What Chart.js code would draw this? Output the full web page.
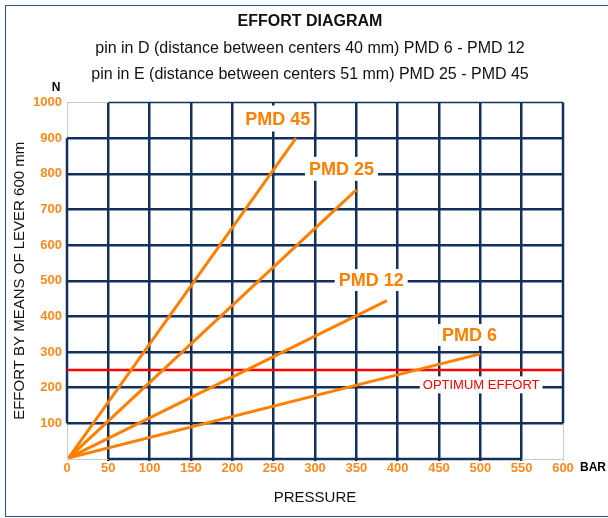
<!DOCTYPE html>
<html>
<head>
<meta charset="utf-8">
<script src="https://cdn.jsdelivr.net/npm/chart.js@4"></script>
<style>
  html, body { margin: 0; padding: 0; background: #fff; overflow: hidden; }
  .wrap { position: relative; width: 608px; height: 518px; }
  .frame { position: absolute; left: 5px; top: 5px; width: 700px; height: 512px;
           border: 1.5px solid #34527f; box-sizing: border-box; }
  canvas { position: absolute; left: 0; top: 0; }
</style>
</head>
<body>
<div class="wrap">
  <div class="frame"></div>
  <canvas id="myChart" width="608" height="518"></canvas>
</div>
<script>
// data
const pressureTicks = [0, 50, 100, 150, 200, 250, 300, 350, 400, 450, 500, 550, 600];
const effortTicks = [0, 100, 200, 300, 400, 500, 600, 700, 800, 900, 1000];

const pmd6Pressure = [2, 500];
const pmd6Effort = [3, 295];
const pmd12Pressure = [2, 387];
const pmd12Effort = [3, 444];
const pmd25Pressure = [2, 350];
const pmd25Effort = [3, 755];
const pmd45Pressure = [2, 277];
const pmd45Effort = [3, 900];

const optimumPressure = [0, 600];
const optimumEffort = [250, 250];

const orange = "#ff8000";
const tickOrange = "#ff8a1c";
const navy = "#12305e";
const lightGrid = "#c6cad3";

function points(xs, ys) {
  return xs.map(function(x, i) {
    return { x: x, y: ys[i] };
  });
}

function orangeLine(label, xs, ys) {
  return {
    label: label,
    data: points(xs, ys),
    borderColor: orange,
    borderWidth: 3,
    pointRadius: 0
  };
}

// grid edges: dark only on part of the border, like the reference
const edgePlugin = {
  id: "edges",
  beforeDatasetsDraw(chart) {
    const x = chart.scales.x;
    const y = chart.scales.y;
    const ctx = chart.ctx;
    ctx.save();
    ctx.strokeStyle = navy;
    ctx.lineWidth = 2.5;
    ctx.beginPath();
    ctx.moveTo(x.getPixelForValue(0), y.getPixelForValue(100));
    ctx.lineTo(x.getPixelForValue(0), y.getPixelForValue(900));
    ctx.moveTo(x.getPixelForValue(600), y.getPixelForValue(100));
    ctx.lineTo(x.getPixelForValue(600), y.getPixelForValue(1000));
    ctx.moveTo(x.getPixelForValue(50), y.getPixelForValue(0));
    ctx.lineTo(x.getPixelForValue(550), y.getPixelForValue(0));
    ctx.stroke();
    ctx.lineWidth = 1.5;
    ctx.beginPath();
    ctx.moveTo(x.getPixelForValue(50), y.getPixelForValue(1000));
    ctx.lineTo(x.getPixelForValue(600), y.getPixelForValue(1000));
    ctx.stroke();
    ctx.restore();
  }
};

// text labels with a white box behind them
const labelPlugin = {
  id: "boxLabels",
  afterDatasetsDraw(chart, args, opts) {
    const x = chart.scales.x;
    const y = chart.scales.y;
    const ctx = chart.ctx;
    ctx.save();
    ctx.textAlign = "center";
    ctx.textBaseline = "middle";
    opts.items.forEach(function(item) {
      ctx.font = item.font;
      const px = x.getPixelForValue(item.x);
      const py = y.getPixelForValue(item.y);
      const w = ctx.measureText(item.text).width + item.padX * 2;
      ctx.fillStyle = "#fff";
      ctx.fillRect(px - w / 2, py - item.boxH / 2, w, item.boxH);
      ctx.fillStyle = item.color;
      ctx.fillText(item.text, px, py + 1);
    });
    // axis units
    ctx.fillStyle = "#000";
    ctx.font = "bold 12px 'Liberation Sans', Arial, sans-serif";
    ctx.textAlign = "center";
    ctx.fillText("N", x.left - 11, y.top - 15);
    ctx.textAlign = "left";
    ctx.fillText("BAR", x.right + 17, y.bottom + 9);
    ctx.restore();
  }
};

Chart.defaults.font.family = "'Liberation Sans', Arial, sans-serif";

let ctx = document.getElementById("myChart").getContext("2d");
let chart = new Chart(ctx, {
  type: "line",
  data: {
    datasets: [
      orangeLine("PMD 6", pmd6Pressure, pmd6Effort),
      orangeLine("PMD 12", pmd12Pressure, pmd12Effort),
      orangeLine("PMD 25", pmd25Pressure, pmd25Effort),
      orangeLine("PMD 45", pmd45Pressure, pmd45Effort),
      {
        label: "OPTIMUM EFFORT",
        data: points(optimumPressure, optimumEffort),
        borderColor: "#ff0000",
        borderWidth: 2.5,
        pointRadius: 0
      }
    ]
  },
  options: {
    responsive: false,
    animation: false,
    layout: { padding: { top: 0, left: 12, right: 0, bottom: 7 } },
    scales: {
      x: {
        type: "linear",
        min: 0,
        max: 600,
        afterBuildTicks: function(scale) {
          scale.ticks = pressureTicks.map(function(v) { return { value: v }; });
        },
        grid: {
          color: function(c) {
            return c.tick && (c.tick.value === 0 || c.tick.value === 600) ? lightGrid : navy;
          },
          lineWidth: function(c) {
            return c.tick && (c.tick.value === 0 || c.tick.value === 600) ? 1 : 2.5;
          },
          tickLength: 2
        },
        border: { display: false },
        ticks: {
          autoSkip: false,
          maxRotation: 0,
          padding: 0,
          color: tickOrange,
          font: { size: 13, weight: "bold" }
        },
        title: {
          display: true,
          text: "PRESSURE",
          color: "#111",
          font: { size: 15 },
          padding: { top: 12.4, bottom: 4 }
        }
      },
      y: {
        type: "linear",
        min: 0,
        max: 1000,
        afterBuildTicks: function(scale) {
          scale.ticks = effortTicks.map(function(v) { return { value: v }; });
        },
        afterFit: function(scale) {
          scale.width = 55;
        },
        grid: {
          color: function(c) {
            return c.tick && (c.tick.value === 0 || c.tick.value === 1000) ? lightGrid : navy;
          },
          lineWidth: function(c) {
            return c.tick && (c.tick.value === 0 || c.tick.value === 1000) ? 1 : 2.5;
          },
          drawTicks: false
        },
        border: { display: false },
        ticks: {
          padding: 5,
          color: tickOrange,
          font: { size: 13, weight: "bold" },
          callback: function(v) { return v === 0 ? "" : v; }
        },
        title: {
          display: true,
          text: "EFFORT BY MEANS OF LEVER 600 mm",
          color: "#111",
          font: { size: 15, lineHeight: 1 },
          padding: { top: 0, bottom: 0 }
        }
      },
      // empty right-hand box, keeps room for "BAR"
      side: {
        type: "linear",
        position: "right",
        afterFit: function(scale) {
          scale.width = 45;
        },
        grid: { display: false },
        border: { display: false },
        ticks: { display: false }
      }
    },
    plugins: {
      legend: { display: false },
      tooltip: { enabled: false },
      title: {
        display: true,
        text: "EFFORT DIAGRAM",
        color: "#111",
        font: { size: 16, weight: "bold" },
        padding: { top: 12, bottom: 0 }
      },
      subtitle: {
        display: true,
        text: [
          "pin in D (distance between centers 40 mm) PMD 6 - PMD 12",
          "pin in E (distance between centers 51 mm) PMD 25 - PMD 45"
        ],
        color: "#111",
        font: { size: 16, lineHeight: 1.625 },
        padding: { top: 4, bottom: 15.3 }
      },
      boxLabels: {
        items: [
          { text: "PMD 45", x: 255, y: 955, font: "bold 18px 'Liberation Sans', Arial", color: orange, padX: 4, boxH: 26 },
          { text: "PMD 25", x: 332, y: 814, font: "bold 18px 'Liberation Sans', Arial", color: orange, padX: 4, boxH: 24 },
          { text: "PMD 12", x: 368, y: 502, font: "bold 18px 'Liberation Sans', Arial", color: orange, padX: 4, boxH: 22 },
          { text: "PMD 6", x: 487, y: 348, font: "bold 18px 'Liberation Sans', Arial", color: orange, padX: 4, boxH: 22 },
          { text: "OPTIMUM EFFORT", x: 501, y: 208, font: "13px 'Liberation Sans', Arial", color: "#ff0000", padX: 3, boxH: 17 }
        ]
      }
    }
  },
  plugins: [edgePlugin, labelPlugin]
});
</script>
</body>
</html>
